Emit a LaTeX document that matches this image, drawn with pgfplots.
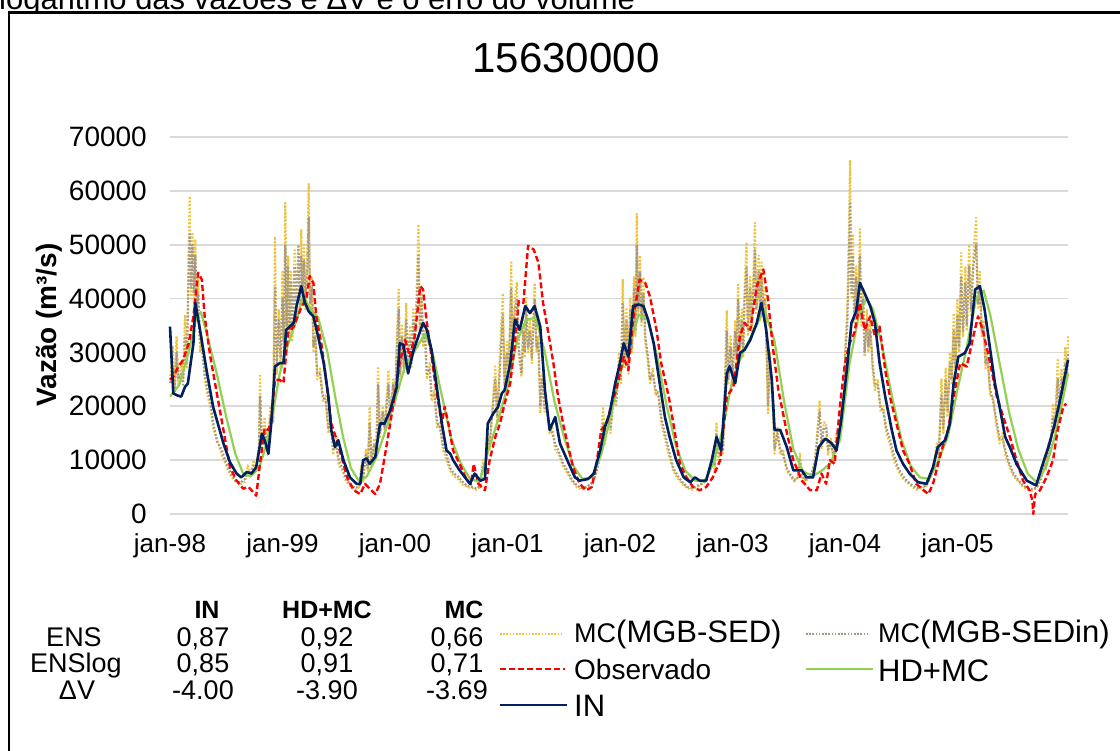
\documentclass[border=0pt]{standalone}
\usepackage{pgfplots}
\pgfplotsset{compat=1.18}
\usepackage{pgfplotstable}
\usepackage{fontspec}
\setmainfont{Liberation Sans}
\definecolor{inblue}{RGB}{0,32,96}
\definecolor{hdgreen}{RGB}{146,208,80}
\definecolor{obsred}{RGB}{255,0,0}
\definecolor{mcyel}{RGB}{236,196,62}
\definecolor{mcgry}{RGB}{165,152,132}
\definecolor{gridg}{RGB}{217,217,217}

\pgfplotstableread{
m ylw gry
0 25000 24000
0.3 31000 27000
0.5 23000 22500
0.7 33000 30000
0.9 24000 25000
1.2 28000 26000
1.4 25000 24000
1.6 37000 33000
1.8 27000 28000
2.0 50000 46000
2.1 59000 52000
2.25 40000 42000
2.4 52000 50000
2.55 38000 41000
2.7 51000 48000
2.85 36000 38000
3.0 44000 41000
3.2 30000 32000
3.4 33000 31000
3.7 25000 26000
4.0 22000 23000
4.3 20000 21000
4.6 16000 17000
5.0 14000 13500
5.5 11000 12000
6.0 9000 9500
6.5 7000 7500
7.0 6000 6200
7.5 5500 5800
8.0 6000 6500
8.3 9000 8000
8.6 7000 7500
8.9 10000 9000
9.2 8000 8500
9.5 13000 12000
9.6 26000 22000
9.8 12000 13000
10.1 18000 16000
10.4 11000 11500
10.7 20000 18000
11.0 17000 17000
11.2 51500 42000
11.4 26000 28000
11.6 38000 36000
11.8 27000 29000
12.0 45000 40000
12.15 30000 32000
12.3 57800 50000
12.45 34000 35000
12.6 48000 46000
12.75 33000 34000
12.9 45000 43000
13.05 32000 34000
13.3 49000 46000
13.45 36000 37000
13.7 47000 50000
13.85 38000 39000
14.0 52900 48000
14.15 40000 41000
14.3 50000 47000
14.45 38000 40000
14.65 48000 45000
14.8 61300 55000
14.95 37000 39000
15.15 44000 42000
15.3 30000 31000
15.5 35000 33000
15.7 25000 26000
16.0 27000 26000
16.3 21000 22000
16.6 22000 21000
16.9 15000 16000
17.2 17000 16000
17.4 11000 12000
17.7 14000 13000
18.0 9000 10000
18.4 8000 8500
18.8 6000 6500
19.3 5000 5300
19.8 4500 4800
20.2 5000 5200
20.4 9000 8000
20.6 6000 6500
20.9 12000 11000
21.1 8000 8500
21.3 19900 17000
21.5 9000 10000
21.8 14000 13000
22.0 11000 12000
22.2 27400 24000
22.4 14000 15000
22.7 20000 19000
22.9 15000 16000
23.1 21000 20000
23.3 26700 24000
23.5 17000 18000
23.8 25000 24000
24.0 20000 21000
24.2 33000 31000
24.4 41700 38000
24.55 25000 26000
24.75 35000 33000
24.95 26000 27000
25.2 39200 36000
25.35 27000 28000
25.6 35000 33000
25.75 27000 28000
25.95 38000 36000
26.1 30000 31000
26.3 40000 38000
26.5 53800 48000
26.65 34000 35000
26.85 41000 40000
27.0 31000 32000
27.2 34000 33000
27.4 25000 26000
27.7 28000 27000
27.9 21000 22000
28.2 23000 22000
28.5 16000 17000
28.8 17000 16000
29.1 12000 13000
29.5 10000 11000
29.9 8000 8500
30.3 7000 7500
30.7 6500 7000
31.2 5500 6000
31.7 5000 5200
32.2 4800 5000
32.7 4500 4700
33.1 5000 5200
33.4 10000 9000
33.6 7000 7500
33.9 15000 14000
34.1 12000 13000
34.4 20000 19000
34.7 27400 25000
34.9 17000 18000
35.2 30000 27000
35.5 41000 37000
35.7 23000 24000
35.95 32000 30000
36.15 26000 27000
36.4 46700 42000
36.55 30000 31000
36.8 40000 38000
37.0 42900 40000
37.2 30000 31000
37.5 25500 26000
37.7 36000 34000
37.85 29000 30000
38.0 40400 38000
38.2 30000 31000
38.4 36000 34000
38.6 28000 29000
38.9 42900 40000
39.1 30000 31000
39.3 33000 32000
39.5 18700 20000
39.7 26000 25000
39.95 19000 20000
40.2 20000 19000
40.5 15000 16000
40.8 16000 15000
41.1 12000 13000
41.5 11000 11500
41.9 9000 9500
42.4 7500 8000
42.9 6000 6300
43.4 5000 5300
43.9 4500 4800
44.4 5000 5000
44.9 5500 5600
45.3 7000 6800
45.6 9000 8500
45.9 12000 11000
46.2 19900 17000
46.4 13000 14000
46.7 17000 16000
47.0 15000 16000
47.3 22000 21000
47.6 20000 21000
47.9 30000 28000
48.1 24000 25000
48.3 43500 39000
48.5 27000 28000
48.7 38000 36000
48.9 26000 27000
49.1 40000 38000
49.3 30000 31000
49.5 44000 42000
49.65 33000 34000
49.8 55700 50000
49.95 37000 38000
50.15 48000 45000
50.3 35000 36000
50.5 44000 41000
50.7 32000 33000
51.0 28000 29000
51.2 24300 25000
51.5 27000 26000
51.8 22000 23000
52.1 23000 22000
52.4 17000 18000
52.8 14000 15000
53.2 11000 12000
53.7 8000 8500
54.2 6500 7000
54.7 5500 5800
55.2 4800 5000
55.7 4500 4800
56.2 5000 5200
56.7 5500 5600
57.2 6000 6300
57.6 9000 8500
57.9 11000 10500
58.1 8000 9000
58.3 16800 15000
58.5 10000 11000
58.8 13000 12000
59.0 11000 12000
59.2 25000 23000
59.4 37800 34000
59.55 24000 25000
59.8 33000 31000
60.0 25000 26000
60.3 36000 34000
60.45 28000 29000
60.6 42900 40000
60.8 30000 31000
61.0 38000 36000
61.15 29000 30000
61.3 42000 40000
61.5 50400 46000
61.65 33000 34000
61.9 44000 42000
62.05 34000 35000
62.2 42000 40000
62.4 54100 49000
62.55 37000 38000
62.8 48000 45000
62.95 36000 37000
63.1 46700 44000
63.3 38000 39000
63.5 42000 40000
63.8 18700 20000
64.0 30000 29000
64.3 20000 21000
64.5 11200 12000
64.8 16000 15000
65.1 11000 12000
65.4 12000 11000
65.8 8000 8500
66.2 7000 7300
66.6 6000 6300
67.0 7000 6800
67.2 11200 10000
67.4 7000 7500
67.7 6000 6300
68.1 6500 6800
68.5 8000 7800
68.8 10000 9500
69.0 14000 13000
69.3 21100 19000
69.5 12000 13000
69.75 17000 16000
70.0 16800 16000
70.2 11000 12000
70.5 14000 13000
70.8 10000 10500
71.1 15000 14000
71.4 13000 14000
71.7 22000 20000
71.9 20000 21000
72.05 31700 30000
72.25 38000 35000
72.4 49800 45000
72.55 65600 58000
72.7 40000 41000
72.85 52000 48000
73.0 35500 36000
73.2 46000 44000
73.4 36000 37000
73.6 52900 48000
73.75 35000 36000
73.95 42000 40000
74.1 29200 30000
74.35 38000 36000
74.5 30000 31000
74.7 36000 34000
74.95 27000 28000
75.2 23000 24000
75.5 25000 24000
75.8 19000 20000
76.1 20000 19000
76.4 15000 16000
76.8 13000 14000
77.2 10000 11000
77.7 8000 8500
78.2 6500 7000
78.7 5800 6000
79.2 5000 5300
79.7 4500 4800
80.2 4800 5000
80.7 5200 5300
81.1 7000 6800
81.5 9000 8800
81.8 13100 12000
82.0 10000 11000
82.3 25000 22000
82.5 15000 16000
82.75 27000 25000
82.95 18000 19000
83.2 30000 28000
83.4 24000 25000
83.6 37300 34000
83.8 26000 27000
84.0 40000 37000
84.2 30000 31000
84.4 48500 44000
84.6 33000 34000
84.85 46000 43000
85.0 34000 35000
85.25 50000 46000
85.45 37000 38000
85.7 48000 46000
86.0 55000 50000
86.2 38000 39000
86.4 45000 42000
86.6 33000 34000
86.8 36000 35000
87.0 27000 28000
87.2 30000 29000
87.5 21800 23000
87.8 22000 21000
88.1 17000 18000
88.5 13100 14000
88.8 15000 14000
89.1 11000 12000
89.5 9000 9500
90.0 7000 7500
90.5 6000 6300
91.0 5000 5300
91.5 4500 4800
92.0 4300 4600
92.5 5000 5000
92.9 7000 6500
93.2 10000 9000
93.4 8000 8500
93.7 13000 12000
93.9 11000 12000
94.2 20500 18000
94.4 15000 16000
94.7 28600 25000
94.9 18000 19000
95.1 27000 25000
95.3 22000 23000
95.5 31000 28000
95.7 25000 26000
95.8 33000 30000
}\mcdata

\begin{document}
\begin{tikzpicture}[x=1pt,y=1pt]
\path[use as bounding box] (0,0) rectangle (1120,751);
% partially visible caption text above the box
\begin{scope}
\clip (0,739) rectangle (1120,751);
\node[anchor=base west, inner sep=0pt, font=\fontsize{31}{33}\selectfont] at (-1,741) {logaritmo das vazões e ΔV e o erro do volume};
\end{scope}
\draw[line width=2.5pt] (9,-2) -- (9,738.5) -- (1122,738.5);

\node[font=\fontsize{42}{46}\selectfont] at (566,693) {15630000};
\node[rotate=90, font=\bfseries\fontsize{28}{30}\selectfont] at (49,426) {Vazão (m³/s)};

\begin{axis}[
  at={(170pt,237pt)}, anchor=south west, scale only axis,
  width=898pt, height=377pt,
  xmin=0, xmax=95.8, ymin=0, ymax=70000,
  axis line style={draw=none},
  major tick length=0pt,
  ytick={0,10000,...,70000},
  xtick={0,12,...,84},
  xticklabels={jan-98,jan-99,jan-00,jan-01,jan-02,jan-03,jan-04,jan-05},
  ymajorgrids, grid style={gridg, line width=1.8pt},
  scaled y ticks=false,
  /pgf/number format/1000 sep={},
  /pgf/number format/assume math mode=true,
  yticklabel style={font=\fontsize{28}{30}\selectfont, inner sep=0pt, xshift=-23pt},
  xticklabel style={font=\fontsize{26}{28}\selectfont, inner sep=0pt, yshift=-19pt, anchor=north},
  clip=false,
]
\addplot[mcyel, line width=2.2pt, dash pattern=on 1.8pt off 1.8pt, line join=round] table[x=m, y=ylw] {\mcdata};
\addplot[mcgry, line width=2.2pt, dash pattern=on 1.8pt off 1.8pt, dash phase=1.8pt, line join=round] table[x=m, y=gry] {\mcdata};
\addplot[hdgreen, line width=2.2pt, line join=round] coordinates {
(0,21800)(1,24000)(2,30000)(2.8,36500)(3.3,37500)(4,33000)(5,26000)(6,18000)(7,11000)(7.8,7500)(8.6,7000)(9.5,8500)(10.3,13000)(11,19000)(11.7,26000)(12.5,31000)(13.5,36000)(14.2,40500)(15,38000)(15.8,36500)(16.8,30000)(17.6,22000)(18.5,14000)(19.3,8500)(20.2,6000)(21,7000)(22,10500)(23,15500)(24,21000)(25,27000)(26,30000)(27.2,33500)(28,30000)(29,22000)(30,14000)(31,9500)(32,6500)(33,6000)(34,12000)(35,17500)(36,23500)(37,32000)(38,36000)(39,36500)(40,30000)(41,21000)(42,14500)(43,9000)(44,6500)(45,6800)(46,11000)(47,18000)(48,26000)(49,31000)(50,37000)(51,36000)(52,29000)(53,20000)(54,12500)(55,8000)(56,6200)(57,6000)(58,9500)(59,16000)(60,25000)(61,29500)(62,33000)(63.4,38000)(64.5,32000)(65.5,21000)(66.5,12000)(67.5,8000)(68.5,7000)(69.5,8000)(70.5,9500)(71.5,14000)(72.5,28000)(73.5,37000)(74.3,40000)(75,38000)(76,31000)(77,22000)(78,14000)(79,9000)(80,6800)(81,6500)(82,10000)(83,14500)(84,23000)(85,31000)(86,40000)(86.8,41500)(87.5,37000)(88.5,28000)(89.5,19000)(90.5,12000)(91.5,7500)(92.5,5800)(93.5,9000)(94.5,15000)(95.8,26000)
};
\addplot[obsred, line width=2.4pt, dash pattern=on 6pt off 3pt, line join=round] coordinates {
(0,24900)(0.35,25500)(0.9,27400)(1.4,28600)(2.0,31700)(2.5,36700)(3.0,44800)(3.4,43500)(3.7,36700)(4.3,29200)(5.0,22400)(5.7,15600)(6.4,8700)(7.1,6200)(7.8,4700)(8.4,5000)(8.7,4400)(9.2,3400)(9.6,9300)(10.1,15900)(10.5,15600)(10.8,17400)(11.2,24900)(11.7,24900)(12.1,24300)(12.6,33600)(13.2,34800)(13.9,37900)(14.6,40400)(14.9,44200)(15.3,42900)(15.6,36700)(16.2,31100)(16.7,24300)(17.2,16800)(17.8,13700)(18.3,10600)(18.9,6800)(19.6,4400)(20.3,3700)(20.8,5600)(21.3,4700)(21.9,3700)(22.4,5600)(22.9,10600)(23.5,16800)(24.0,22400)(24.5,28000)(25.1,32300)(25.6,29200)(26.1,33000)(26.7,42300)(27.0,41700)(27.4,35500)(27.9,29200)(28.4,23000)(29.0,16800)(29.3,19900)(29.7,16800)(30.2,11800)(30.9,9300)(31.6,6500)(32.1,5500)(32.4,9300)(32.9,5600)(33.6,4400)(34.1,10000)(34.7,14300)(35.2,16800)(35.7,20500)(36.3,24300)(36.8,31700)(37.2,39500)(37.7,39200)(38.2,49800)(38.8,49100)(39.3,46700)(39.8,39200)(40.3,34200)(40.9,28000)(41.4,21800)(42.0,16200)(42.5,12400)(43.0,8700)(43.7,5600)(44.4,4400)(45.0,5000)(45.5,9300)(46.0,15600)(46.6,16800)(47.1,20500)(47.6,23000)(48.4,29200)(48.9,26700)(49.4,36100)(50.1,43500)(50.7,42900)(51.2,40400)(51.9,34200)(52.4,28000)(53.2,21800)(53.7,16800)(54.4,9300)(55.1,6800)(55.8,5000)(56.5,4400)(57.2,5000)(57.9,6800)(58.7,10000)(59.4,21800)(60.1,23600)(60.8,33000)(61.3,35500)(61.9,34200)(62.6,42300)(63.3,45400)(63.8,39800)(64.3,31100)(64.9,23000)(65.4,18700)(65.9,14300)(66.5,10000)(67.4,6200)(68.3,4400)(69.0,4400)(69.5,7500)(70.0,5600)(70.4,10000)(70.9,9300)(71.5,20500)(72.0,28000)(72.5,31700)(73.0,33600)(73.6,39200)(74.1,34200)(74.7,36700)(75.2,33000)(75.7,34800)(76.3,26700)(76.8,21800)(77.5,16800)(78.2,11800)(78.9,9300)(79.6,5600)(80.4,4400)(80.9,3700)(81.4,5600)(82.3,11800)(83.0,15600)(83.6,21800)(84.3,28000)(85.0,27400)(85.7,33000)(86.2,36700)(86.7,34200)(87.5,28000)(88.2,21800)(88.9,18000)(89.6,14300)(90.3,10000)(91.0,6200)(91.7,4400)(92.0,2500)(92.1,0)(92.2,2000)(92.3,3700)(92.8,4400)(93.5,6800)(94.2,10000)(94.7,15600)(95.3,19900)(95.6,20500)
};
\addplot[inblue, line width=2.6pt, line join=round] coordinates {
(0,34800)(0.35,22400)(0.8,22000)(1.2,21800)(1.6,23600)(1.9,24200)(2.5,31700)(2.7,39200)(3.2,34200)(3.9,26700)(4.6,19900)(5.2,16200)(5.7,13100)(6.4,9600)(7.1,7500)(7.6,6800)(8.2,7800)(8.7,7500)(9.2,8700)(9.8,14900)(10.1,13700)(10.5,11200)(10.8,16800)(11.2,27400)(11.7,28000)(12.1,28000)(12.4,34200)(12.8,34800)(13.2,35500)(13.5,38600)(14.0,42300)(14.4,39200)(14.8,37600)(15.3,36700)(15.8,33000)(16.4,28000)(16.9,21800)(17.2,15600)(17.6,12400)(17.95,13700)(18.5,10000)(19.2,6800)(19.9,5600)(20.3,5600)(20.6,10000)(21.0,10300)(21.3,9300)(21.9,10600)(22.4,16800)(22.9,16800)(23.5,19300)(24.2,23600)(24.5,31700)(24.9,31400)(25.4,26100)(26.0,30500)(26.5,33000)(27.0,35500)(27.4,34200)(27.9,30500)(28.4,24300)(29.0,16800)(29.5,11800)(29.9,11200)(30.2,10000)(30.9,8100)(32.0,5600)(32.5,7500)(33.1,6200)(33.6,6500)(33.9,16800)(34.5,18700)(35.0,19900)(35.4,22400)(35.7,23000)(36.3,28000)(36.8,36100)(37.3,34200)(37.9,38600)(38.4,37300)(38.9,38600)(39.5,34800)(40.0,23000)(40.5,15600)(41.1,18000)(41.6,13100)(42.3,10300)(43.2,6800)(43.7,6200)(44.6,6500)(45.2,7500)(45.9,11800)(46.4,16200)(46.9,18700)(47.5,24300)(48.0,28000)(48.4,31700)(48.9,29200)(49.4,38600)(50.0,38900)(50.5,38600)(51.0,36100)(51.6,31700)(52.3,23600)(52.8,18000)(53.3,14300)(54.0,10000)(54.8,6800)(55.5,5900)(56.0,6800)(56.5,6200)(57.2,6200)(57.8,10000)(58.3,14300)(58.8,11800)(59.4,26100)(59.7,27400)(60.3,24300)(60.8,29900)(61.3,30500)(61.9,32300)(62.6,35500)(63.1,39200)(63.6,34200)(64.2,24900)(64.5,15600)(65.1,15600)(65.8,12400)(66.5,8100)(67.4,8100)(67.9,6800)(68.6,6800)(69.2,12400)(69.9,14000)(70.6,13100)(71.1,11800)(71.6,17400)(72.2,26700)(72.7,35500)(73.2,37600)(73.6,42900)(74.1,41000)(74.7,38600)(75.2,35500)(75.7,28000)(76.3,21800)(77.0,15600)(77.5,11800)(78.2,9300)(78.9,7500)(79.8,5900)(80.7,5600)(81.4,8700)(81.9,12400)(82.7,13700)(83.2,16800)(83.6,24300)(84.1,29200)(84.8,29900)(85.3,31700)(85.9,41700)(86.4,42300)(86.9,38000)(87.5,30500)(88.0,24300)(88.5,19900)(89.1,14300)(89.6,12400)(90.3,9300)(91.4,6200)(92.4,5300)(93.0,8700)(93.7,12400)(94.4,16800)(95.1,22400)(95.8,28600)
};
\end{axis}

% statistics table
\begin{scope}[every node/.style={anchor=base, inner sep=0pt, font=\fontsize{27}{29}\selectfont}]
\node[font=\bfseries\fontsize{25}{27}\selectfont] at (207,132) {IN};
\node[font=\bfseries\fontsize{25}{27}\selectfont] at (327,132) {HD+MC};
\node[font=\bfseries\fontsize{25}{27}\selectfont] at (464,132) {MC};
\node at (74,104.5) {ENS};
\node at (203,104.5) {0,87};
\node at (327,104.5) {0,92};
\node at (457,104.5) {0,66};
\node at (76,78.5) {ENSlog};
\node at (203,78.5) {0,85};
\node at (327,78.5) {0,91};
\node at (457,78.5) {0,71};
\node at (77,51.5) {ΔV};
\node at (203,51.5) {-4.00};
\node at (327,51.5) {-3.90};
\node at (457,51.5) {-3.69};
\end{scope}

% legend
\draw[mcyel, line width=1.7pt, dash pattern=on 1.6pt off 1.6pt] (500,117) -- (563,117);
\node[anchor=west, inner sep=0pt] at (574,117) {\fontsize{27}{29}\selectfont MC\fontsize{31}{33}\selectfont(MGB-SED)};
\draw[mcgry, line width=1.7pt, dash pattern=on 1.6pt off 1.6pt] (806,117) -- (870,117);
\node[anchor=west, inner sep=0pt] at (878,117) {\fontsize{27}{29}\selectfont MC\fontsize{31}{33}\selectfont(MGB-SEDin)};
\draw[obsred, line width=2.4pt, dash pattern=on 6pt off 3pt] (500,82) -- (565,82);
\node[anchor=west, inner sep=0pt, font=\fontsize{28}{30}\selectfont] at (574,82) {Observado};
\draw[hdgreen, line width=2.2pt] (806,82) -- (873,82);
\node[anchor=west, inner sep=0pt, font=\fontsize{31}{33}\selectfont] at (878,80) {HD+MC};
\draw[inblue, line width=2.6pt] (500,46) -- (567,46);
\node[anchor=west, inner sep=0pt, font=\fontsize{31}{33}\selectfont] at (574,45) {IN};
\end{tikzpicture}
\end{document}
